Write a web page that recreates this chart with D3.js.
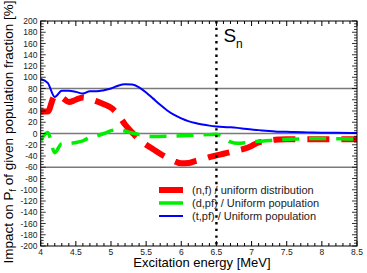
<!DOCTYPE html>
<html>
<head>
<script src="https://d3js.org/d3.v7.min.js"></script>
<style>
body { margin: 0; background: #fff; }
text { font-family: "Liberation Sans", Arial, sans-serif; }
</style>
</head>
<body>
<svg id="chart" width="367" height="273"></svg>
<script>
// data
var nfE   = [4.0, 4.1, 4.2, 4.3, 4.4, 4.5, 4.6, 4.7, 4.8, 4.9, 5.0, 5.1, 5.2, 5.3, 5.4, 5.5, 5.6, 5.7, 5.8, 5.9, 6.0, 6.1, 6.2, 6.3, 6.4, 6.5, 6.6, 6.7, 6.8, 6.9, 7.0, 7.1, 7.2, 7.3, 7.4, 7.5, 7.75, 8.0, 8.25, 8.5];
var nfVal = [39, 39, 67, 64, 56, 60, 64, 61, 57, 52, 46, 34, 16, 2, -11, -20, -28, -36, -43, -49, -53, -52.5, -49, -46, -42, -39, -36, -33, -30, -27, -22, -16, -14, -11.5, -10.5, -10, -10, -10, -10, -10];

var dpfE   = [4.0, 4.1, 4.2, 4.3, 4.4, 4.5, 4.6, 4.7, 4.8, 4.9, 5.0, 5.1, 5.2, 5.3, 5.4, 5.5, 5.6, 5.8, 6.0, 6.2, 6.4, 6.5, 6.6, 6.7, 6.8, 6.9, 7.0, 7.2, 7.4, 7.6, 7.8, 8.0, 8.25, 8.5];
var dpfVal = [-12, 2, -34, -18, -18, -16, -13, -7, -4, 0, 5, 7, 4.5, 1, -2, -5, -5.5, -5, -4, -3, -2, -1.5, -8, -15, -17.5, -16.5, -15, -13, -11, -10, -9, -9, -9.5, -10];

var tpfE   = [4.0, 4.1, 4.2, 4.3, 4.4, 4.5, 4.6, 4.7, 4.8, 4.9, 5.0, 5.1, 5.2, 5.3, 5.4, 5.5, 5.6, 5.7, 5.8, 5.9, 6.0, 6.1, 6.2, 6.3, 6.4, 6.5, 6.6, 6.7, 6.8, 6.9, 7.0, 7.1, 7.2, 7.3, 7.4, 7.5, 7.6, 7.8, 8.0, 8.2, 8.5];
var tpfVal = [97, 90, 65, 76, 76, 74, 71, 75, 75, 77, 80, 85, 87.5, 87, 82, 73, 62, 51, 41, 33, 27, 22, 18.5, 16, 14, 12.5, 11.5, 11, 10, 8.5, 7, 6, 5, 4, 3, 3, 2.5, 2, 1.5, 1.5, 1];

var refLines = [80, 0, -60];
var snEnergy = 6.5;
var xTicks = [4, 4.5, 5, 5.5, 6, 6.5, 7, 7.5, 8, 8.5];
var yTicks = d3.range(-200, 201, 20);

var series = [
    {name: "(n,f) / uniform distribution", e: nfE, v: nfVal, color: "#ff0000", width: 6, dash: "22,12"},
    {name: "(d,pf) / Uniform population", e: dpfE, v: dpfVal, color: "#00ee00", width: 3.5, dash: "17,10"},
    {name: "(t,pf) / Uniform population", e: tpfE, v: tpfVal, color: "#0000ff", width: 2, dash: null}
];

var svg = d3.select("#chart");
var L = 40.7, R = 357, T = 21, B = 246;

var x = d3.scaleLinear([4, 8.5], [L, R]);
var y = d3.scaleLinear([-200, 200], [B, T]);

var g = svg.append("g");

// reference lines
g.selectAll(".ref").data(refLines).join("line")
    .attr("x1", L).attr("x2", R)
    .attr("y1", d => y(d)).attr("y2", d => y(d))
    .attr("stroke", "#7a7a7a").attr("stroke-width", 1.4);

// clip
svg.append("clipPath").attr("id", "clip")
    .append("rect").attr("x", L).attr("y", T).attr("width", R - L).attr("height", B - T);

var line = d3.line().x(d => x(d[0])).y(d => y(d[1])).curve(d3.curveMonotoneX);

g.append("g").attr("clip-path", "url(#clip)")
    .selectAll("path").data(series).join("path")
    .attr("d", s => line(s.e.map((e, i) => [e, s.v[i]])))
    .attr("fill", "none")
    .attr("stroke", s => s.color)
    .attr("stroke-width", s => s.width)
    .attr("stroke-dasharray", s => s.dash);

// Sn dotted line
g.append("line")
    .attr("x1", x(snEnergy)).attr("x2", x(snEnergy))
    .attr("y1", T).attr("y2", B)
    .attr("stroke", "#000").attr("stroke-width", 2.4)
    .attr("stroke-dasharray", "2.4,4.3");

var sn = g.append("text").attr("x", x(snEnergy) + 7).attr("y", 42)
    .attr("font-size", 19);
sn.append("tspan").text("S");
sn.append("tspan").attr("font-size", 12).attr("dy", 6).text("n");

// frame
g.append("rect").attr("x", L).attr("y", T).attr("width", R - L).attr("height", B - T)
    .attr("fill", "none").attr("stroke", "#000").attr("stroke-width", 1);

// ticks: x
var xMinor = d3.range(40, 86).map(d => d / 10);
g.selectAll(".xt").data(xMinor).join("path")
    .attr("d", d => {
        var len = Math.abs(d * 2 - Math.round(d * 2)) < 1e-6 ? 5 : 3;
        return "M" + x(d) + "," + B + "v" + (-len) + "M" + x(d) + "," + T + "v" + len;
    })
    .attr("stroke", "#000").attr("stroke-width", 1);

var yMinor = d3.range(-200, 201, 5);
g.selectAll(".yt").data(yMinor).join("path")
    .attr("d", d => {
        var len = d % 20 === 0 ? 5 : 3;
        return "M" + L + "," + y(d) + "h" + len + "M" + R + "," + y(d) + "h" + (-len);
    })
    .attr("stroke", "#000").attr("stroke-width", 0.8);

// tick labels
g.selectAll(".xl").data(xTicks).join("text")
    .attr("x", d => x(d)).attr("y", 254.5)
    .attr("text-anchor", "middle").attr("font-size", 8.5).attr("fill", "#222")
    .text(d => d);

g.selectAll(".yl").data(yTicks).join("text")
    .attr("x", 37.5).attr("y", d => y(d) + 3)
    .attr("text-anchor", "end").attr("font-size", 8.5).attr("fill", "#222")
    .text(d => d);

// axis titles
g.append("text").attr("x", 202).attr("y", 267)
    .attr("text-anchor", "middle").attr("font-size", 13)
    .text("Excitation energy [MeV]");

var yt = g.append("text")
    .attr("transform", "translate(13,132) rotate(-90)")
    .attr("text-anchor", "middle").attr("font-size", 13.5);
yt.append("tspan").text("Impact on P");
yt.append("tspan").attr("font-size", 9).attr("dy", 3).text("f");
yt.append("tspan").attr("dy", -3).text(" of given population fraction [%]");

// legend
var leg = g.selectAll(".leg").data(series).join("g")
    .attr("transform", (d, i) => "translate(159," + (190 + i * 13) + ")");
leg.append("line").attr("x1", 0).attr("x2", 24)
    .attr("stroke", d => d.color).attr("stroke-width", d => d.width);
leg.append("text").attr("x", 33).attr("y", 4)
    .attr("font-size", 11).attr("fill", "#222")
    .text(d => d.name);
</script>
</body>
</html>
